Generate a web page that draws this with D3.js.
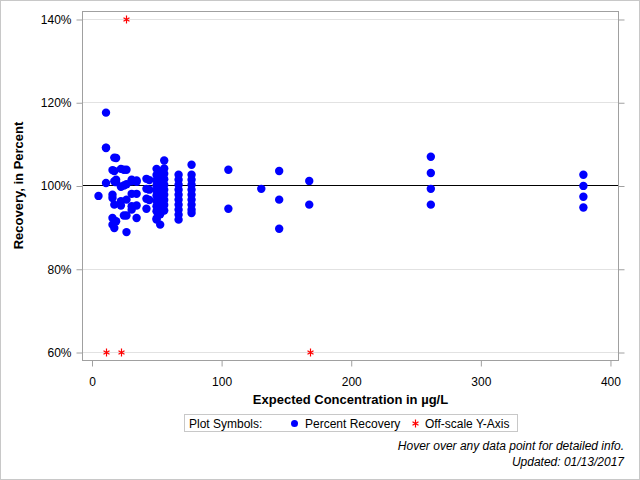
<!DOCTYPE html>
<html>
<head>
<meta charset="utf-8">
<script src="https://cdn.jsdelivr.net/npm/d3@7"></script>
<style>
  body { margin: 0; background: #fff; }
  svg { display: block; font-family: "Liberation Sans", Arial, sans-serif; }
</style>
</head>
<body>
<div class="vis-scatter"></div>
<script>
// expected concentration (ug/L) for each group of samples
var concentrations = [5.4, 11.2, 16.2, 17.6, 19.0, 22.7, 25.0, 27.0, 31.0, 34.8,
  42.4, 44.6, 50.2, 53.0, 56.1, 67.2, 77.2, 105.6, 131.0, 144.8, 168.0, 261.8, 379.5];

// percent recovery measured at each concentration
var recovery = [
  [97.5],
  [117.5, 109.1, 109.0, 100.6],
  [103.7, 97.8, 92.2, 90.6, 97.0],
  [106.7, 101.0, 95.4, 89.8, 103.5],
  [106.6, 101.4, 91.4, 100.8],
  [104.0, 99.7, 95.2, 96.2],
  [103.8, 100.0, 92.8],
  [103.8, 96.6, 92.8, 88.8, 100.3],
  [101.4, 98.0, 95.0, 94.2, 101.0],
  [100.9, 98.0, 95.2, 92.2, 101.2],
  [101.6, 99.2, 96.8, 94.4],
  [101.3, 99.0, 96.5],
  [104.0, 102.5, 101.2, 100.0, 98.8, 97.6, 96.3, 95.0, 93.8, 92.1, 91.8],
  [103.4, 102.0, 100.7, 99.4, 98.2, 97.0, 95.7, 94.5, 93.1, 90.6],
  [106.0, 104.1, 102.8, 101.5, 100.2, 99.0, 97.8, 96.5, 95.3, 94.0],
  [102.6, 101.4, 100.2, 99.0, 97.8, 96.6, 95.4, 94.2, 93.0, 91.8],
  [105.0, 102.6, 101.4, 100.2, 99.0, 97.8, 96.6, 95.4, 94.2, 93.4],
  [103.8, 94.4],
  [99.2],
  [103.5, 96.6, 89.6],
  [101.1, 95.4],
  [106.9, 103.0, 99.2, 95.4],
  [102.6, 99.9, 97.3, 94.7]
];

// points beyond the y-axis range, drawn at the axis limit
var offConc = [26.6, 11.2, 22.7, 168.4];
var offValue = [140, 60, 60, 60];

var xTicks = [0, 100, 200, 300, 400];
var yTicks = [60, 80, 100, 120, 140];

var width = 640, height = 480;
var plot = { left: 83, right: 618, top: 11, bottom: 360 };

var points = [];
concentrations.forEach(function (c, i) {
  recovery[i].forEach(function (v) { points.push({ conc: c, value: v }); });
});
var offscale = offConc.map(function (c, i) { return { conc: c, value: offValue[i] }; });

var svg = d3.select('.vis-scatter').append('svg')
  .attr('width', width)
  .attr('height', height);

// outer frame
svg.append('rect')
  .attr('x', 0.5).attr('y', 0.5)
  .attr('width', width - 1).attr('height', height - 1)
  .attr('fill', 'none').attr('stroke', '#c8c8c8');

var x = d3.scaleLinear().domain([-6.55, 406.2]).range([plot.left, plot.right]);
var y = d3.scaleLinear().domain([58.08, 141.92]).range([plot.bottom, plot.top]);

// horizontal grid
svg.append('g').selectAll('line').data(yTicks).enter().append('line')
  .attr('x1', plot.left).attr('x2', plot.right)
  .attr('y1', function (d) { return Math.round(y(d)) + 0.5; })
  .attr('y2', function (d) { return Math.round(y(d)) + 0.5; })
  .attr('stroke', '#e2e2e2');

// reference line at 100%
svg.append('line')
  .attr('x1', plot.left).attr('x2', plot.right)
  .attr('y1', Math.round(y(100)) + 0.5).attr('y2', Math.round(y(100)) + 0.5)
  .attr('stroke', '#000');

// axes
var fmt = function (d) { return d + '%'; };
var yAxis = svg.append('g')
  .attr('transform', 'translate(' + (plot.left - 0.5) + ',0.5)')
  .call(d3.axisLeft(y).tickValues(yTicks).tickFormat(fmt).tickSize(6).tickPadding(5).tickSizeOuter(0));
var yAxisR = svg.append('g')
  .attr('transform', 'translate(' + (plot.right + 0.5) + ',0.5)')
  .call(d3.axisRight(y).tickValues(yTicks).tickFormat('').tickSize(6).tickSizeOuter(0));
var xAxis = svg.append('g')
  .attr('transform', 'translate(0.5,' + (plot.bottom + 0.5) + ')')
  .call(d3.axisBottom(x).tickValues(xTicks).tickSize(6).tickPadding(11).tickSizeOuter(0));

[yAxis, yAxisR, xAxis].forEach(function (a) {
  a.select('.domain').remove();
  a.selectAll('.tick line').attr('stroke', '#a0a0a0');
  a.selectAll('.tick text')
    .attr('fill', '#000')
    .style('font-family', '"Liberation Sans", Arial, sans-serif')
    .style('font-size', '12px');
});

// plot frame
svg.append('rect')
  .attr('x', plot.left - 0.5).attr('y', plot.top + 0.5)
  .attr('width', plot.right - plot.left + 1).attr('height', plot.bottom - plot.top)
  .attr('fill', 'none').attr('stroke', '#a0a0a0');

// axis titles
svg.append('text')
  .attr('x', (plot.left + plot.right) / 2).attr('y', 404)
  .attr('text-anchor', 'middle')
  .style('font-size', '13px').style('font-weight', 'bold')
  .text('Expected Concentration in µg/L');

svg.append('text')
  .attr('transform', 'translate(23,' + (plot.top + plot.bottom) / 2 + ') rotate(-90)')
  .attr('text-anchor', 'middle')
  .style('font-size', '13px').style('font-weight', 'bold')
  .text('Recovery, in Percent');

// markers
var asterisk = function (cx, cy, r) {
  var d = r * 0.75;
  return 'M' + cx + ',' + (cy - r) + 'V' + (cy + r) +
    'M' + (cx - d) + ',' + (cy - d * 0.6) + 'L' + (cx + d) + ',' + (cy + d * 0.6) +
    'M' + (cx - d) + ',' + (cy + d * 0.6) + 'L' + (cx + d) + ',' + (cy - d * 0.6);
};

svg.append('g').selectAll('circle').data(points).enter().append('circle')
  .attr('cx', function (d) { return x(d.conc); })
  .attr('cy', function (d) { return y(d.value); })
  .attr('r', 4.2)
  .attr('fill', '#0000ff');

svg.append('g').selectAll('path').data(offscale).enter().append('path')
  .attr('d', function (d) { return asterisk(Math.round(x(d.conc)) + 0.5, Math.round(y(d.value)) + 0.5, 4); })
  .attr('stroke', '#ff0000').attr('stroke-width', 1.2).attr('fill', 'none');

// legend
var lg = svg.append('g');
lg.append('rect')
  .attr('x', 184.5).attr('y', 414.5).attr('width', 333).attr('height', 17)
  .attr('fill', 'none').attr('stroke', '#c8c8c8');
lg.append('text').attr('x', 189).attr('y', 427.5).style('font-size', '12px').text('Plot Symbols:');
lg.append('circle').attr('cx', 294.5).attr('cy', 423.5).attr('r', 3.5).attr('fill', '#0000ff');
lg.append('text').attr('x', 305).attr('y', 427.5).style('font-size', '12px').text('Percent Recovery');
lg.append('path').attr('d', asterisk(415.5, 423.5, 4))
  .attr('stroke', '#ff0000').attr('stroke-width', 1.2).attr('fill', 'none');
lg.append('text').attr('x', 425).attr('y', 427.5).style('font-size', '12px').text('Off-scale Y-Axis');

// footnotes
svg.append('text').attr('x', 624).attr('y', 450).attr('text-anchor', 'end')
  .style('font-size', '12px').style('font-style', 'italic')
  .text('Hover over any data point for detailed info.');
svg.append('text').attr('x', 624).attr('y', 466).attr('text-anchor', 'end')
  .style('font-size', '12px').style('font-style', 'italic')
  .text('Updated: 01/13/2017');
</script>
</body>
</html>
